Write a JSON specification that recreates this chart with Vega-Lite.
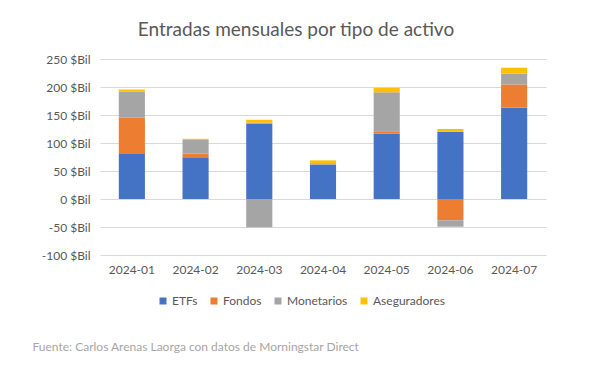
{
  "$schema": "https://vega.github.io/schema/vega-lite/v6.json",
  "autosize": {"type": "none"},
  "padding": {"left": 100, "top": 59, "right": 61, "bottom": 115},
  "width": 446,
  "height": 196,
  "background": "white",
  "title": {
    "text": "Entradas mensuales por tipo de activo",
    "frame": "group",
    "anchor": "middle",
    "dx": -27,
    "font": "Lato",
    "fontSize": 19,
    "fontWeight": "normal",
    "color": "#595959",
    "offset": 13
  },
  "data": {
    "values": [
      {"mes": "2024-01", "tipo": "ETFs", "orden": 1, "valor": 80.5},
      {"mes": "2024-01", "tipo": "Fondos", "orden": 2, "valor": 65},
      {"mes": "2024-01", "tipo": "Monetarios", "orden": 3, "valor": 46.5},
      {"mes": "2024-01", "tipo": "Aseguradores", "orden": 4, "valor": 3.5},
      {"mes": "2024-02", "tipo": "ETFs", "orden": 1, "valor": 74.5},
      {"mes": "2024-02", "tipo": "Fondos", "orden": 2, "valor": 6.5},
      {"mes": "2024-02", "tipo": "Monetarios", "orden": 3, "valor": 24.5},
      {"mes": "2024-02", "tipo": "Aseguradores", "orden": 4, "valor": 2},
      {"mes": "2024-03", "tipo": "ETFs", "orden": 1, "valor": 134.5},
      {"mes": "2024-03", "tipo": "Fondos", "orden": 2, "valor": 2},
      {"mes": "2024-03", "tipo": "Monetarios", "orden": 3, "valor": -50.5},
      {"mes": "2024-03", "tipo": "Aseguradores", "orden": 4, "valor": 5},
      {"mes": "2024-04", "tipo": "ETFs", "orden": 1, "valor": 61},
      {"mes": "2024-04", "tipo": "Fondos", "orden": 2, "valor": 0},
      {"mes": "2024-04", "tipo": "Monetarios", "orden": 3, "valor": 3},
      {"mes": "2024-04", "tipo": "Aseguradores", "orden": 4, "valor": 5},
      {"mes": "2024-05", "tipo": "ETFs", "orden": 1, "valor": 117},
      {"mes": "2024-05", "tipo": "Fondos", "orden": 2, "valor": 4},
      {"mes": "2024-05", "tipo": "Monetarios", "orden": 3, "valor": 69.5},
      {"mes": "2024-05", "tipo": "Aseguradores", "orden": 4, "valor": 8},
      {"mes": "2024-06", "tipo": "ETFs", "orden": 1, "valor": 120},
      {"mes": "2024-06", "tipo": "Fondos", "orden": 2, "valor": -38},
      {"mes": "2024-06", "tipo": "Monetarios", "orden": 3, "valor": -11.5},
      {"mes": "2024-06", "tipo": "Aseguradores", "orden": 4, "valor": 5},
      {"mes": "2024-07", "tipo": "ETFs", "orden": 1, "valor": 163},
      {"mes": "2024-07", "tipo": "Fondos", "orden": 2, "valor": 41.5},
      {"mes": "2024-07", "tipo": "Monetarios", "orden": 3, "valor": 19.5},
      {"mes": "2024-07", "tipo": "Aseguradores", "orden": 4, "valor": 10.5}
    ]
  },
  "mark": {"type": "bar"},
  "encoding": {
    "x": {
      "field": "mes",
      "type": "ordinal",
      "scale": {"paddingInner": 0.59, "paddingOuter": 0.295},
      "axis": {
        "labelAngle": 0,
        "ticks": false,
        "domain": false,
        "labelPadding": 9,
        "labelFont": "Lato",
        "labelFontSize": 12,
        "labelColor": "#595959",
        "title": "Fuente: Carlos Arenas Laorga con datos de Morningstar Direct",
        "titleFont": "Lato",
        "titleFontSize": 12,
        "titleFontWeight": "normal",
        "titleColor": "#A6A6A6",
        "titleAnchor": "start",
        "titleAlign": "left",
        "titleBaseline": "middle",
        "titleX": -68,
        "titleY": 91
      }
    },
    "y": {
      "field": "valor",
      "type": "quantitative",
      "stack": "zero",
      "scale": {"domain": [-100, 250], "nice": false},
      "axis": {
        "title": null,
        "values": [-100, -50, 0, 50, 100, 150, 200, 250],
        "labelExpr": "datum.value + ' $Bil'",
        "ticks": false,
        "domain": false,
        "labelPadding": 10,
        "labelFont": "Lato",
        "labelFontSize": 12,
        "labelColor": "#595959",
        "gridColor": "#D9D9D9"
      }
    },
    "color": {
      "field": "tipo",
      "type": "nominal",
      "sort": ["ETFs", "Fondos", "Monetarios", "Aseguradores"],
      "scale": {
        "domain": ["ETFs", "Fondos", "Monetarios", "Aseguradores"],
        "range": ["#4472C4", "#ED7D31", "#A5A5A5", "#FFC000"]
      },
      "legend": {
        "title": null,
        "orient": "none",
        "direction": "horizontal",
        "legendX": 57,
        "legendY": 236,
        "symbolType": "square",
        "symbolSize": 49,
        "symbolStrokeWidth": 0,
        "labelFont": "Lato",
        "labelFontSize": 12,
        "labelColor": "#595959",
        "labelOffset": 3,
        "columnPadding": 10
      }
    },
    "order": {"field": "orden", "type": "quantitative"}
  },
  "config": {
    "view": {"stroke": null}
  }
}
